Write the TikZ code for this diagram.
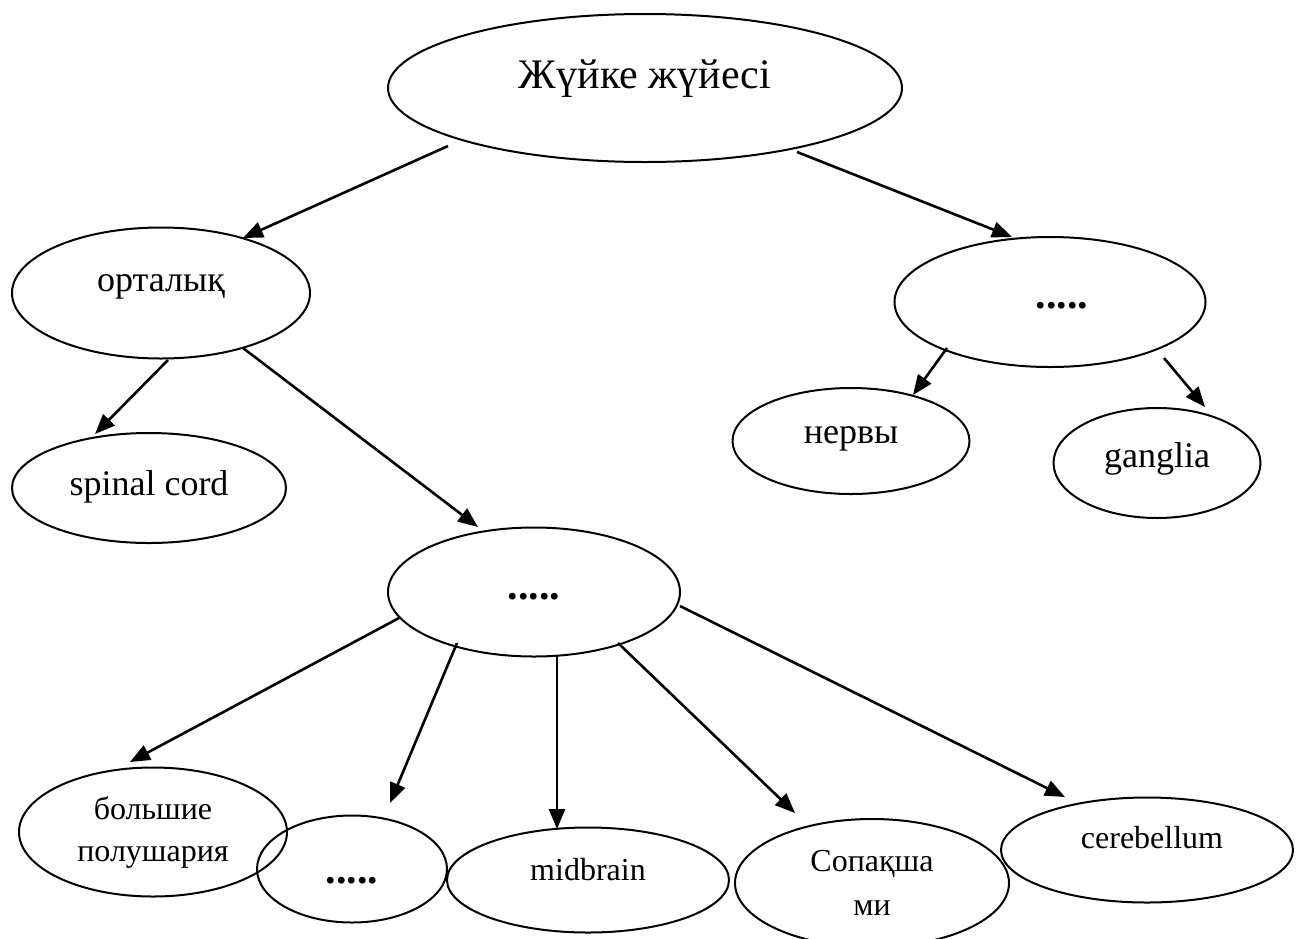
\documentclass[tikz,border=0pt]{standalone}
\usepackage{fontspec}
\setmainfont{Liberation Serif}
\usepackage{tkz-graph}
\usetikzlibrary{arrows.meta,shapes.geometric}

\begin{document}
\begin{tikzpicture}[x=1pt, y=-1pt]
\useasboundingbox (0,0) rectangle (1296,938);
\GraphInit[vstyle=Empty]
\tikzset{Oval/.style ={draw, ellipse, line width=2pt, inner sep=0pt, align=center}}
\tikzset{VertexStyle/.style ={Oval, minimum width=514pt, minimum height=148pt, text height=0pt, text depth=0pt, font=\fontsize{42}{50}\selectfont}}
\Vertex[x=645, y=88, L=Жүйке жүйесі]{A}
\tikzset{VertexStyle/.style ={Oval, minimum width=298pt, minimum height=131pt, text height=0pt, text depth=4pt, font=\fontsize{36}{43}\selectfont}}
\Vertex[x=161, y=293, L=орталық]{B}
\tikzset{VertexStyle/.style ={Oval, minimum width=311pt, minimum height=130pt, text height=12pt, text depth=0pt, font=\fontsize{42}{50}\selectfont\bfseries}}
\Vertex[x=1050, y=302, L={\hspace{24pt}.....}]{C}
\tikzset{VertexStyle/.style ={Oval, minimum width=274pt, minimum height=110pt, text height=14pt, text depth=0pt, font=\fontsize{36}{43}\selectfont}}
\Vertex[x=149, y=488, L=spinal cord]{D}
\tikzset{VertexStyle/.style ={Oval, minimum width=237pt, minimum height=106pt, text height=4pt, text depth=0pt, font=\fontsize{36}{43}\selectfont}}
\Vertex[x=851, y=441, L=нервы]{E}
\tikzset{VertexStyle/.style ={Oval, minimum width=207pt, minimum height=110pt, text height=8pt, text depth=0pt, font=\fontsize{36}{43}\selectfont}}
\Vertex[x=1157, y=463, L=ganglia]{F}
\tikzset{VertexStyle/.style ={Oval, minimum width=292pt, minimum height=129pt, text height=14pt, text depth=0pt, font=\fontsize{42}{50}\selectfont\bfseries}}
\Vertex[x=534, y=592, L=.....]{G}
\tikzset{VertexStyle/.style ={Oval, minimum width=268pt, minimum height=129pt, font=\fontsize{32}{42}\selectfont}}
\Vertex[x=153, y=832, L={большие\\полушария}]{H}
\tikzset{VertexStyle/.style ={Oval, minimum width=190pt, minimum height=107pt, text height=28pt, text depth=0pt, font=\fontsize{42}{50}\selectfont\bfseries}}
\Vertex[x=352, y=869, L=.....]{I}
\tikzset{VertexStyle/.style ={Oval, minimum width=282pt, minimum height=105pt, text height=0pt, text depth=0pt, font=\fontsize{32}{42}\selectfont}}
\Vertex[x=588, y=880, L=midbrain]{J}
\tikzset{VertexStyle/.style ={Oval, minimum width=274pt, minimum height=128pt, font=\fontsize{32}{44}\selectfont}}
\Vertex[x=872, y=883, L={Сопақша\\ми}]{K}
\tikzset{VertexStyle/.style ={Oval, minimum width=292pt, minimum height=105pt, text height=0pt, text depth=4pt, font=\fontsize{32}{42}\selectfont}}
\Vertex[x=1147, y=850, L={\hspace{10pt}cerebellum}]{L}
% arrow ends
\SetVertexNoLabel
\tikzset{VertexStyle/.style ={inner sep=0pt, minimum size=0pt}}
\Vertex[x=448, y=146]{S1}
\Vertex[x=243, y=238]{T1}
\Vertex[x=797, y=152]{S2}
\Vertex[x=1012, y=237]{T2}
\Vertex[x=168, y=360]{S3}
\Vertex[x=95, y=434]{T3}
\Vertex[x=243, y=348]{S4}
\Vertex[x=478, y=527]{T4}
\Vertex[x=947, y=348]{S5}
\Vertex[x=913, y=395]{T5}
\Vertex[x=1164, y=358]{S6}
\Vertex[x=1205, y=407]{T6}
\Vertex[x=399, y=618]{S7}
\Vertex[x=130, y=762]{T7}
\Vertex[x=457, y=643]{S8}
\Vertex[x=390, y=803]{T8}
\Vertex[x=557, y=656]{S9}
\Vertex[x=557, y=829]{T9}
\Vertex[x=618, y=643]{S10}
\Vertex[x=795, y=813]{T10}
\Vertex[x=680, y=606]{S11}
\Vertex[x=1065, y=797]{T11}
\tikzset{EdgeStyle/.style ={-{Triangle[length=20pt, width=16pt]}, line width=2.6pt}}
\Edge(S1)(T1)
\Edge(S2)(T2)
\Edge(S3)(T3)
\Edge(S4)(T4)
\Edge(S5)(T5)
\Edge(S6)(T6)
\Edge(S7)(T7)
\Edge(S8)(T8)
\Edge(S9)(T9)
\Edge(S10)(T10)
\Edge(S11)(T11)
\end{tikzpicture}
\end{document}
